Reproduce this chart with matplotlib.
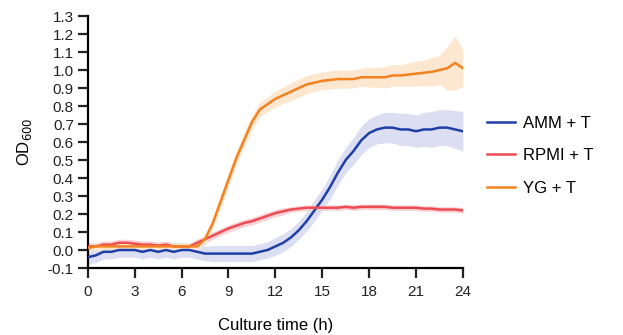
import numpy as np
import matplotlib.pyplot as plt

plt.rcParams['font.family'] = ['Liberation Sans', 'DejaVu Sans']

# culture time grid (h)
t = np.arange(0, 24.01, 0.5)

# AMM + T
amm = [-0.04, -0.03, -0.01, -0.01, 0.00, 0.00, 0.00, -0.01, 0.00, -0.01,
       0.00, -0.01, 0.00, 0.00, -0.01, -0.02, -0.02, -0.02, -0.02, -0.02,
       -0.02, -0.02, -0.01, 0.00, 0.02, 0.04, 0.07, 0.11, 0.16, 0.22,
       0.28, 0.35, 0.43, 0.50, 0.55, 0.61, 0.65, 0.67, 0.68, 0.68,
       0.67, 0.67, 0.66, 0.67, 0.67, 0.68, 0.68, 0.67, 0.66]
amm_sd = [0.04, 0.04, 0.04, 0.04, 0.04, 0.04, 0.04, 0.04, 0.04, 0.04,
          0.04, 0.04, 0.04, 0.04, 0.04, 0.04, 0.045, 0.045, 0.045, 0.045,
          0.045, 0.045, 0.045, 0.045, 0.05, 0.05, 0.05, 0.05, 0.055, 0.06,
          0.06, 0.065, 0.07, 0.07, 0.075, 0.08, 0.08, 0.08, 0.085, 0.085,
          0.09, 0.09, 0.09, 0.095, 0.1, 0.1, 0.1, 0.105, 0.11]

# RPMI + T
rpmi = [0.02, 0.02, 0.03, 0.03, 0.04, 0.04, 0.035, 0.03, 0.03, 0.025,
        0.03, 0.02, 0.02, 0.02, 0.04, 0.06, 0.08, 0.10, 0.12, 0.135,
        0.15, 0.16, 0.175, 0.19, 0.205, 0.215, 0.225, 0.23, 0.235, 0.235,
        0.235, 0.235, 0.235, 0.24, 0.235, 0.24, 0.24, 0.24, 0.24, 0.235,
        0.235, 0.235, 0.235, 0.23, 0.23, 0.225, 0.225, 0.225, 0.22]
rpmi_sd = [0.02] * 26 + [0.015] * 23

# YG + T
yg = [0.01, 0.02, 0.02, 0.02, 0.02, 0.02, 0.02, 0.02, 0.02, 0.02,
      0.02, 0.02, 0.02, 0.02, 0.02, 0.06, 0.15, 0.27, 0.39, 0.51,
      0.61, 0.71, 0.78, 0.81, 0.84, 0.86, 0.88, 0.90, 0.92, 0.93,
      0.94, 0.945, 0.95, 0.95, 0.95, 0.96, 0.96, 0.96, 0.96, 0.97,
      0.97, 0.975, 0.98, 0.985, 0.99, 1.00, 1.01, 1.04, 1.01]
yg_sd = [0.02] * 15 + [0.03, 0.03, 0.04, 0.04, 0.04, 0.04, 0.04, 0.04, 0.04,
         0.045, 0.045, 0.05, 0.05, 0.05, 0.05, 0.05, 0.05, 0.05, 0.05,
         0.05, 0.05, 0.055, 0.055, 0.06, 0.06, 0.06, 0.065, 0.07, 0.07,
         0.08, 0.08, 0.12, 0.15, 0.1]

labels = ['AMM + T', 'RPMI + T', 'YG + T']
colors = ['#1f3fa6', '#ef4b55', '#f2821f']
band_colors = ['#dcdff2', '#f9d0d3', '#fde7d0']

fig = plt.figure(figsize=(6.23, 3.35), dpi=100)
ax = fig.add_axes([0.141, 0.2, 0.602, 0.752])

series = [(amm, amm_sd), (rpmi, rpmi_sd), (yg, yg_sd)]
for (m, s), bc in zip(series, band_colors):
    m = np.array(m)
    s = np.array(s)
    ax.fill_between(t, m - s, m + s, color=bc, lw=0, zorder=1)
for (m, s), c, lab in zip(series, colors, labels):
    ax.plot(t, m, color=c, lw=1.8, label=lab, zorder=3)

yt = np.round(np.arange(-0.1, 1.31, 0.1), 1)
ax.set_xlim(0, 24)
ax.set_ylim(-0.1, 1.3)
ax.set_xticks(np.arange(0, 25, 3))
ax.set_yticks(yt)
ax.set_yticklabels(['%.1f' % v for v in yt])
for sp in ['top', 'right']:
    ax.spines[sp].set_visible(False)
for sp in ['left', 'bottom']:
    ax.spines[sp].set_linewidth(1.6)
ax.tick_params(direction='out', length=7, width=1.6, labelsize=11, colors='#222222', pad=3)
ax.tick_params(axis='x', pad=5)
ax.set_xlabel('Culture time (h)', fontsize=12, labelpad=14)
ax.set_ylabel('OD$_{600}$', fontsize=12, labelpad=10)

fig.legend(loc='center left', bbox_to_anchor=(0.757, 0.535), frameon=False,
           fontsize=12, handlelength=1.7, handletextpad=0.5, labelspacing=1.05)

fig.savefig('out.png', dpi=100)
